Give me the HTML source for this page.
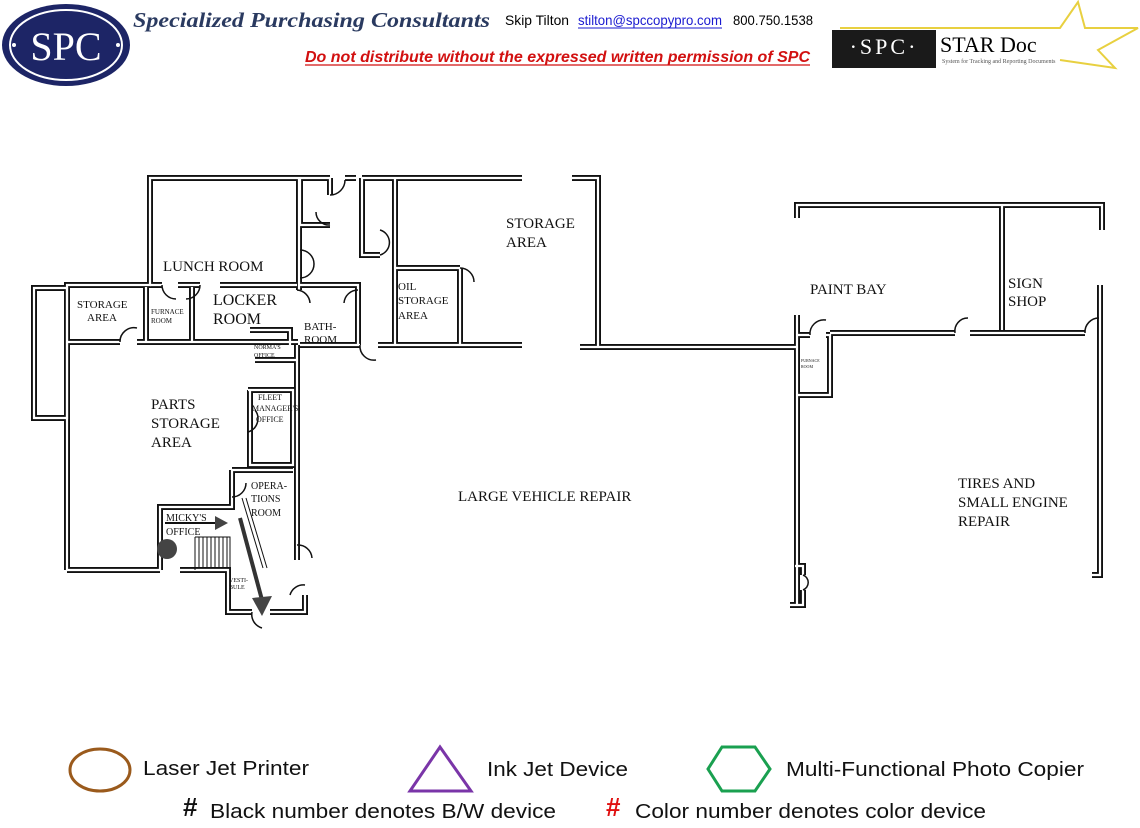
<!DOCTYPE html>
<html><head><meta charset="utf-8"><style>
html,body{margin:0;padding:0;background:#fff;}
body{width:1140px;height:828px;overflow:hidden;position:relative;}
svg{position:absolute;left:0;top:0;}
</style></head><body>
<svg width="1140" height="828" viewBox="0 0 1140 828" xmlns="http://www.w3.org/2000/svg">
<defs>
<g id="walls">
<path d="M34,288 H67 V418 H34 Z"/>
<path d="M67,570 V285 H150 V178 H299 V290"/>
<path d="M67,570 H160"/>
<path d="M160,570 V507 H232 V470"/>
<path d="M180,570 H228 V612 H252"/>
<path d="M270,612 H305 V595"/>
<path d="M297,345 V560"/>
<path d="M67,342 H120 M137,342 H298"/>
<path d="M146,287 V342 M192,287 V342"/>
<path d="M150,285 H162 M178,285 H200 M220,285 H297"/>
<path d="M300,178 H330 M330,178 V195 M300,178 V225 H330"/>
<path d="M345,178 H356 M362,178 H522"/>
<path d="M362,178 V255 H380"/>
<path d="M395,178 V345"/>
<path d="M395,268 H460"/>
<path d="M460,268 V345"/>
<path d="M300,285 H358 V345"/>
<path d="M300,345 H360 M378,345 H522"/>
<path d="M250,330 H290 V345"/>
<path d="M248,390 H293 V465 H250 V390"/>
<path d="M232,470 H293"/>
<path d="M255,360 H297"/>
<path d="M572,178 H598 V347"/>
<path d="M580,347 H797"/>
<path d="M797,315 V605"/>
<path d="M797,335 H810 M826,335 H830 V395 H797"/>
<path d="M830,333 H955 M970,333 H1085"/>
<path d="M797,218 V205 H1102 V230"/>
<path d="M1002,205 V330"/>
<path d="M1100,285 V575 H1092"/>
<path d="M795,566 H803 V575 M803,590 V605 H790"/>
</g>
</defs>
<!-- header -->
<ellipse cx="66" cy="45" rx="64" ry="41" fill="#1d2566"/>
<ellipse cx="66" cy="45" rx="56" ry="35" fill="none" stroke="#fff" stroke-width="2"/>
<text x="66" y="60" font-family="Liberation Serif" font-size="40" fill="#fff" text-anchor="middle">SPC</text>
<circle cx="14" cy="45" r="2" fill="#fff"/><circle cx="118" cy="45" r="2" fill="#fff"/>
<text x="133" y="27" font-family="Liberation Serif" font-style="italic" font-weight="bold" font-size="21" fill="#2a3a60" textLength="357" lengthAdjust="spacingAndGlyphs">Specialized Purchasing Consultants</text>
<text x="505" y="25" font-family="Liberation Sans" font-size="14" fill="#000" textLength="64" lengthAdjust="spacingAndGlyphs">Skip Tilton</text>
<text x="578" y="25" font-family="Liberation Sans" font-size="14" fill="#1a1ad0" textLength="144" lengthAdjust="spacingAndGlyphs">stilton@spccopypro.com</text>
<line x1="578" y1="28" x2="722" y2="28" stroke="#1a1ad0" stroke-width="1"/>
<text x="733" y="25" font-family="Liberation Sans" font-size="14" fill="#000" textLength="80" lengthAdjust="spacingAndGlyphs">800.750.1538</text>
<text x="305" y="62" font-family="Liberation Sans" font-style="italic" font-weight="bold" font-size="16" fill="#d21010" textLength="505" lengthAdjust="spacingAndGlyphs">Do not distribute without the expressed written permission of SPC</text>
<line x1="305" y1="65" x2="810" y2="65" stroke="#d21010" stroke-width="1.2"/>
<polyline points="840,28 1060,28 1078,2 1085,28 1138,28 1098,50 1115,68 1060,60" fill="none" stroke="#e8d040" stroke-width="2"/>
<rect x="832" y="30" width="104" height="38" fill="#1a1a1a"/>
<text x="884" y="54" font-family="Liberation Serif" font-size="22" fill="#fff" text-anchor="middle" letter-spacing="3">·SPC·</text>
<text x="940" y="52" font-family="Liberation Serif" font-size="22" fill="#000">STAR Doc</text>
<text x="942" y="63" font-family="Liberation Serif" font-size="6" fill="#555">System for Tracking and Reporting Documents</text>

<g fill="none">
<use href="#walls" stroke="#111" stroke-width="6"/>
<use href="#walls" stroke="#fff" stroke-width="2.2"/>
<g stroke="#111" stroke-width="1.5">
<path d="M330,195 A15,15 0 0 0 345,180"/>
<path d="M330,225 A13,13 0 0 1 316,212"/>
<path d="M380,255 A13,13 0 0 0 380,230"/>
<path d="M300,250 A14,14 0 0 1 300,278"/>
<path d="M460,268 A14,14 0 0 1 474,282"/>
<path d="M360,345 A14,14 0 0 0 376,360"/>
<path d="M120,342 A14,14 0 0 1 137,328"/>
<path d="M162,285 A14,14 0 0 0 176,299"/>
<path d="M200,285 A14,14 0 0 1 186,299"/>
<path d="M297,290 A14,14 0 0 1 310,303"/>
<path d="M358,290 A14,14 0 0 0 344,303"/>
<path d="M255,410 A14,14 0 0 1 248,432"/>
<path d="M232,497 A14,14 0 0 0 246,483"/>
<path d="M297,545 A14,14 0 0 1 312,558"/>
<path d="M305,585 A14,14 0 0 0 290,595"/>
<path d="M810,335 A14,14 0 0 1 826,320"/>
<path d="M955,333 A13,13 0 0 1 968,318"/>
<path d="M1085,333 A14,14 0 0 1 1099,318"/>
<path d="M803,575 A8,8 0 0 1 803,590"/>
<path d="M252,612 A14,14 0 0 0 262,628"/>
</g>
</g>
<g stroke="#111" stroke-width="1" fill="none">
<path d="M195,537 H230 V570 M195,537 V570"/>
<path d="M199,537V568M203,537V568M207,537V568M211,537V568M215,537V568M219,537V568M223,537V568M227,537V568"/>
<path d="M242,498 L263,568 M246,498 L267,568"/>
<line x1="165" y1="523" x2="215" y2="523" stroke-width="2"/>
</g>
<circle cx="167" cy="549" r="10" fill="#444"/>
<polygon points="215,516 228,523 215,530" fill="#444"/>
<line x1="240" y1="518" x2="262" y2="600" stroke="#333" stroke-width="4"/>
<polygon points="252,598 272,596 262,616" fill="#444"/>
<g font-family="Liberation Serif" fill="#111">
<text x="506" y="228" font-size="15">STORAGE</text>
<text x="506" y="247" font-size="15">AREA</text>
<text x="163" y="271" font-size="15">LUNCH ROOM</text>
<text x="77" y="308" font-size="11">STORAGE</text>
<text x="87" y="321" font-size="11">AREA</text>
<text x="151" y="314" font-size="7">FURNACE</text>
<text x="151" y="323" font-size="7">ROOM</text>
<text x="213" y="305" font-size="16">LOCKER</text>
<text x="213" y="324" font-size="16">ROOM</text>
<text x="304" y="330" font-size="11">BATH-</text>
<text x="304" y="343" font-size="11">ROOM</text>
<text x="398" y="290" font-size="11">OIL</text>
<text x="398" y="304" font-size="11">STORAGE</text>
<text x="398" y="319" font-size="11">AREA</text>
<text x="254" y="349" font-size="6">NORMA'S</text>
<text x="254" y="357" font-size="6">OFFICE</text>
<text x="258" y="400" font-size="8">FLEET</text>
<text x="252" y="411" font-size="8">MANAGER'S</text>
<text x="256" y="422" font-size="8">OFFICE</text>
<text x="151" y="409" font-size="15">PARTS</text>
<text x="151" y="428" font-size="15">STORAGE</text>
<text x="151" y="447" font-size="15">AREA</text>
<text x="251" y="489" font-size="10">OPERA-</text>
<text x="251" y="502" font-size="10">TIONS</text>
<text x="251" y="516" font-size="10">ROOM</text>
<text x="166" y="521" font-size="10">MICKY'S</text>
<text x="166" y="535" font-size="10">OFFICE</text>
<text x="229" y="582" font-size="6">VESTI-</text>
<text x="229" y="589" font-size="6">BULE</text>
<text x="458" y="501" font-size="15">LARGE VEHICLE REPAIR</text>
<text x="810" y="294" font-size="15">PAINT BAY</text>
<text x="1008" y="288" font-size="15">SIGN</text>
<text x="1008" y="306" font-size="15">SHOP</text>
<text x="801" y="362" font-size="4">FURNACE</text>
<text x="801" y="368" font-size="4">ROOM</text>
<text x="958" y="488" font-size="15">TIRES AND</text>
<text x="958" y="507" font-size="15">SMALL ENGINE</text>
<text x="958" y="526" font-size="15">REPAIR</text>
</g>
<ellipse cx="100" cy="770" rx="30" ry="21" fill="none" stroke="#9a5a1c" stroke-width="3"/>
<polygon points="440,747 471,791 410,791" fill="none" stroke="#7a35a8" stroke-width="3"/>
<polygon points="722,747 755,747 770,769 755,791 722,791 708,769" fill="none" stroke="#1aa050" stroke-width="3"/>
<g font-family="Liberation Sans" font-size="20" fill="#111">
<text x="143" y="775" textLength="166" lengthAdjust="spacingAndGlyphs">Laser Jet Printer</text>
<text x="487" y="776" textLength="141" lengthAdjust="spacingAndGlyphs">Ink Jet Device</text>
<text x="786" y="776" textLength="298" lengthAdjust="spacingAndGlyphs">Multi-Functional Photo Copier</text>
<text x="183" y="816" font-weight="bold" font-size="26">#</text>
<text x="210" y="818" textLength="346" lengthAdjust="spacingAndGlyphs">Black number denotes B/W device</text>
<text x="606" y="816" font-weight="bold" font-size="26" fill="#e01010">#</text>
<text x="635" y="818" textLength="351" lengthAdjust="spacingAndGlyphs">Color number denotes color device</text>
</g>
</svg>
</body></html>
